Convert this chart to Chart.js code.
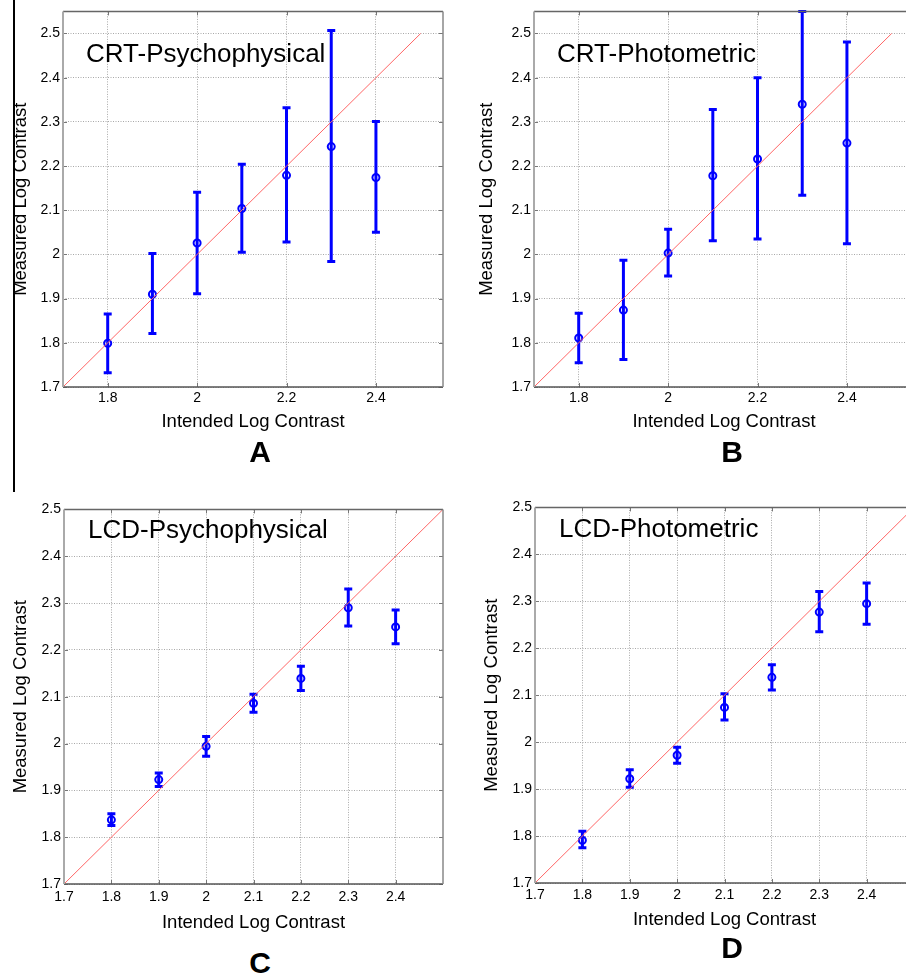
<!DOCTYPE html>
<html>
<head>
<meta charset="utf-8">
<script src="https://cdn.jsdelivr.net/npm/chart.js@4/dist/chart.umd.min.js"></script>
<style>
  html, body { margin:0; padding:0; background:#fff; overflow:hidden; }
  body { width:906px; height:978px; position:relative; font-family:"Liberation Sans", Arial, sans-serif; }
  canvas { position:absolute; }
  .note { position:absolute; font-size:26px; line-height:26px; color:#000; white-space:nowrap; }
  .letter { position:absolute; width:100px; text-align:center; font-size:30px; line-height:30px; font-weight:bold; color:#000; }
  #edge { position:absolute; left:13px; top:0; width:2px; height:492px; background:#000; }
</style>
</head>
<body>
<div id="edge"></div>
<canvas id="cA"></canvas>
<canvas id="cB"></canvas>
<canvas id="cC"></canvas>
<canvas id="cD"></canvas>

<div class="note" style="left:86px;top:40px">CRT-Psychophysical</div>
<div class="note" style="left:557px;top:40px">CRT-Photometric</div>
<div class="note" style="left:88px;top:516px">LCD-Psychophysical</div>
<div class="note" style="left:559px;top:515px">LCD-Photometric</div>

<div class="letter" style="left:210px;top:437px">A</div>
<div class="letter" style="left:682px;top:437px">B</div>
<div class="letter" style="left:210px;top:948px">C</div>
<div class="letter" style="left:682px;top:933px">D</div>

<script>
// intended contrast levels
var intended = [1.8, 1.9, 2.0, 2.1, 2.2, 2.3, 2.4];

// CRT psychophysical
var crtPsyMean = [1.799, 1.910, 2.026, 2.104, 2.179, 2.244, 2.174];
var crtPsyLow  = [1.732, 1.821, 1.911, 2.005, 2.028, 1.984, 2.050];
var crtPsyHigh = [1.865, 2.002, 2.141, 2.204, 2.332, 2.507, 2.301];

// CRT photometric
var crtPhoMean = [1.811, 1.874, 2.003, 2.178, 2.216, 2.340, 2.252];
var crtPhoLow  = [1.755, 1.762, 1.951, 2.031, 2.035, 2.134, 2.024];
var crtPhoHigh = [1.867, 1.987, 2.057, 2.328, 2.400, 2.550, 2.481];

// LCD psychophysical
var lcdPsyMean = [1.837, 1.923, 1.994, 2.086, 2.139, 2.290, 2.249];
var lcdPsyLow  = [1.825, 1.908, 1.973, 2.067, 2.113, 2.251, 2.213];
var lcdPsyHigh = [1.850, 1.937, 2.015, 2.105, 2.165, 2.330, 2.285];

// LCD photometric
var lcdPhoMean = [1.791, 1.922, 1.972, 2.074, 2.138, 2.277, 2.295];
var lcdPhoLow  = [1.775, 1.904, 1.955, 2.047, 2.111, 2.235, 2.251];
var lcdPhoHigh = [1.810, 1.941, 1.989, 2.103, 2.165, 2.321, 2.339];

// ticks
var yTicks = [1.7, 1.8, 1.9, 2.0, 2.1, 2.2, 2.3, 2.4, 2.5];
var xTicksCrt = [1.8, 2.0, 2.2, 2.4];
var xTicksLcd = [1.7, 1.8, 1.9, 2.0, 2.1, 2.2, 2.3, 2.4];
var identity = [1.7, 2.5];

var FONT = '"Liberation Sans", Arial, sans-serif';

// error bars, drawn under the markers
var errorBars = {
	id: 'errorBars',
	beforeDatasetsDraw: function(chart){
		var ctx = chart.ctx, xs = chart.scales.x, ys = chart.scales.y;
		chart.data.datasets.forEach(function(ds){
			if(!ds.lo) return;
			ctx.save();
			ctx.beginPath();
			ctx.rect(chart.chartArea.left, chart.chartArea.top - 2, chart.chartArea.width, chart.chartArea.height + 4);
			ctx.clip();
			ctx.strokeStyle = '#0000ff';
			ctx.lineWidth = 3;
			ds.data.forEach(function(p, i){
				var x = xs.getPixelForValue(p.x);
				var y1 = ys.getPixelForValue(ds.lo[i]);
				var y2 = ys.getPixelForValue(ds.hi[i]);
				ctx.beginPath();
				ctx.moveTo(x, y1); ctx.lineTo(x, y2);
				ctx.moveTo(x - 4, y1); ctx.lineTo(x + 4, y1);
				ctx.moveTo(x - 4, y2); ctx.lineTo(x + 4, y2);
				ctx.stroke();
			});
			ctx.restore();
			ctx.beginPath();
		});
	}
};

// matlab style box round the plot area, with small inner tick marks
var boxFrame = {
	id: 'boxFrame',
	afterDraw: function(chart){
		var a = chart.chartArea, ctx = chart.ctx, xs = chart.scales.x, ys = chart.scales.y;
		ctx.save();
		ctx.lineWidth = 1;
		ctx.strokeStyle = '#777';
		ctx.beginPath();
		xs.ticks.forEach(function(t){
			var x = Math.round(xs.getPixelForValue(t.value)) + 0.5;
			ctx.moveTo(x, a.bottom); ctx.lineTo(x, a.bottom - 4);
			ctx.moveTo(x, a.top); ctx.lineTo(x, a.top + 4);
		});
		ys.ticks.forEach(function(t){
			var y = Math.round(ys.getPixelForValue(t.value)) + 0.5;
			ctx.moveTo(a.left, y); ctx.lineTo(a.left + 4, y);
			ctx.moveTo(a.right, y); ctx.lineTo(a.right - 4, y);
		});
		ctx.stroke();
		ctx.lineWidth = 1.5;
		ctx.strokeStyle = '#666';
		ctx.beginPath(); ctx.moveTo(a.left, a.top); ctx.lineTo(a.right, a.top); ctx.stroke();
		ctx.strokeStyle = '#555';
		ctx.beginPath(); ctx.moveTo(a.left, a.bottom); ctx.lineTo(a.right, a.bottom); ctx.stroke();
		ctx.strokeStyle = '#888';
		ctx.beginPath(); ctx.moveTo(a.right, a.top); ctx.lineTo(a.right, a.bottom); ctx.stroke();
		ctx.lineWidth = 2;
		ctx.strokeStyle = '#aaa';
		ctx.beginPath(); ctx.moveTo(a.left, a.top); ctx.lineTo(a.left, a.bottom); ctx.stroke();
		ctx.restore();
	}
};

function fmt(v){ return String(Number(v.toFixed(1))); }

function panel(id, area, xMax, xTicks, mean, lo, hi, pad){
	var cv = document.getElementById(id);
	cv.style.left = (area[0] - 63) + 'px';
	cv.style.top = (area[1] - 8) + 'px';
	cv.width = area[2] - area[0] + 71;
	cv.height = area[3] - area[1] + 68;

	var pts = intended.map(function(x, i){ return {x:x, y:mean[i]}; });
	var diag = identity.map(function(v){ return {x:v, y:v}; });

	new Chart(cv, {
		type: 'scatter',
		data: {
			datasets: [
				{
					type: 'line',
					data: diag,
					borderColor: '#ff6666',
					borderWidth: 1,
					pointRadius: 0,
					fill: false
				},
				{
					data: pts,
					lo: lo,
					hi: hi,
					pointStyle: 'circle',
					pointRadius: 3.5,
					pointBorderWidth: 2,
					borderColor: '#0000ff',
					backgroundColor: 'rgba(0,0,0,0)'
				}
			]
		},
		options: {
			responsive: false,
			animation: false,
			devicePixelRatio: 1,
			layout: { padding: { left:0, top:8, right:8, bottom:0 } },
			plugins: { legend: { display:false }, tooltip: { enabled:false } },
			scales: {
				x: {
					type: 'linear',
					min: 1.7,
					max: xMax,
					afterBuildTicks: function(s){ s.ticks = xTicks.map(function(v){ return {value:v}; }); },
					afterFit: function(s){ s.height = 60; },
					grid: { color:'#a8a8a8', lineWidth:1, drawTicks:false },
					border: { display:false, dash:[1,1.5] },
					ticks: { padding:pad.xt, color:'#000', font:{ family:FONT, size:14 }, maxRotation:0, callback:function(v){ return fmt(v); } },
					title: { display:true, text:'Intended Log Contrast', color:'#000', font:{ family:FONT, size:18.5 }, padding:{ top:0, bottom:pad.xl } }
				},
				y: {
					type: 'linear',
					min: 1.7,
					max: area[4],
					afterBuildTicks: function(s){ s.ticks = yTicks.map(function(v){ return {value:v}; }); },
					afterFit: function(s){ s.width = 63; },
					grid: { color:'#a8a8a8', lineWidth:1, drawTicks:false },
					border: { display:false, dash:[1,1.5] },
					ticks: { padding:3, color:'#000', font:{ family:FONT, size:14 }, callback:function(v){ return fmt(v); } },
					title: { display:true, text:'Measured Log Contrast', color:'#000', font:{ family:FONT, size:18.5 }, padding:{ top:pad.yl, bottom:0 } }
				}
			}
		},
		plugins: [errorBars, boxFrame]
	});
}

// area: left, top, right, bottom, yMax
panel('cA', [63, 8, 443, 387, 2.55], 2.55, xTicksCrt, crtPsyMean, crtPsyLow, crtPsyHigh, {xt:3, xl:14, yl:10});
panel('cB', [534, 8, 914, 387, 2.55], 2.55, xTicksCrt, crtPhoMean, crtPhoLow, crtPhoHigh, {xt:3, xl:14, yl:5});
panel('cC', [64, 506, 443, 884, 2.5], 2.5, xTicksLcd, lcdPsyMean, lcdPsyLow, lcdPsyHigh, {xt:5, xl:10, yl:9});
panel('cD', [535, 504, 914, 883, 2.5], 2.5, xTicksLcd, lcdPhoMean, lcdPhoLow, lcdPhoHigh, {xt:4, xl:12, yl:9});
</script>
</body>
</html>
